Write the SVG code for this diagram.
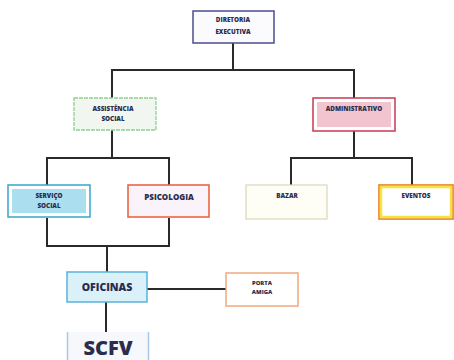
<svg xmlns="http://www.w3.org/2000/svg" width="454" height="360" viewBox="0 0 454 360">
<style>
.t{font-family:"Open Sans","Liberation Sans",sans-serif;font-weight:800;fill:#2b2d4e;text-anchor:middle}
.s{font-size:6.3px}
.c{fill:none;stroke:#2a2a2a;stroke-width:2}
</style>
<rect width="454" height="360" fill="#ffffff"/>
<g id="connectors">
<path class="c" d="M233 43V70M112 98V70H354V98"/>
<path class="c" d="M112 130V158M47 186V158H169V186"/>
<path class="c" d="M354 131V158M291 186V158H412V186"/>
<path class="c" d="M47 218V246H169V218M107 246V272"/>
<path class="c" d="M147 289H226"/>
<path class="c" d="M106 302V332"/>
</g>
<g id="diretoria">
<rect x="193" y="11" width="81" height="32" fill="#fbfbfe" stroke="#4b4d8c" stroke-width="1.5"/>
<text class="t s" x="233" y="21.5">DIRETORIA</text>
<text class="t s" x="233" y="33.5">EXECUTIVA</text>
</g>
<g id="assistencia">
<rect x="74" y="98" width="82" height="32" fill="#f1f6f1" stroke="#8fd08f" stroke-width="1.3" stroke-dasharray="4 1"/>
<text class="t s" x="113" y="110.5">ASSISTÊNCIA</text>
<text class="t s" x="113" y="120.5">SOCIAL</text>
</g>
<g id="administrativo">
<rect x="313" y="98" width="82" height="33" fill="#ffffff" stroke="#c63a50" stroke-width="1.5"/>
<rect x="317" y="102" width="74" height="25" fill="#f2c4cf"/>
<text class="t s" x="354" y="110.5">ADMINISTRATIVO</text>
</g>
<g id="servico">
<rect x="8" y="185" width="82" height="32" fill="#ffffff" stroke="#3aa3cc" stroke-width="1.5"/>
<rect x="12" y="189" width="74" height="24" fill="#abdff0"/>
<text class="t s" x="49" y="197.5">SERVIÇO</text>
<text class="t s" x="49" y="207.5">SOCIAL</text>
</g>
<g id="psicologia">
<rect x="128" y="185" width="81" height="32" fill="#faf3fa" stroke="#ea6446" stroke-width="1.6"/>
<text class="t" font-size="8" x="169" y="200">PSICOLOGIA</text>
</g>
<g id="bazar">
<rect x="246" y="185" width="81" height="34" fill="#fefef6" stroke="#d8d8b8" stroke-width="1.2"/>
<text class="t s" x="287" y="197.5">BAZAR</text>
</g>
<g id="eventos">
<rect x="379" y="185" width="74" height="34" fill="#ffffff" stroke="#ec7a22" stroke-width="1.6"/>
<rect x="381" y="187" width="70" height="30" fill="none" stroke="#f6e43e" stroke-width="2.5"/>
<text class="t s" x="416" y="197.5">EVENTOS</text>
</g>
<g id="oficinas">
<rect x="67" y="272" width="80" height="30" fill="#dbf1fa" stroke="#5ab2da" stroke-width="1.5"/>
<text class="t" font-size="10.5" fill="#1f3a5c" x="107" y="290.5">OFICINAS</text>
</g>
<g id="porta">
<rect x="226" y="273" width="72" height="33" fill="#ffffff" stroke="#f0a276" stroke-width="1.4"/>
<text class="t" font-size="5.8" x="262" y="285">PORTA</text>
<text class="t" font-size="5.8" x="262" y="294">AMIGA</text>
</g>
<g id="scfv">
<rect x="67" y="332" width="82" height="30" fill="#f6f8fb"/>
<path d="M67.5 332V360M148.5 332V360" stroke="#a9c8e6" stroke-width="1.5"/>
<text class="t" font-size="20" fill="#1f3556" x="108" y="355">SCFV</text>
</g>
</svg>
